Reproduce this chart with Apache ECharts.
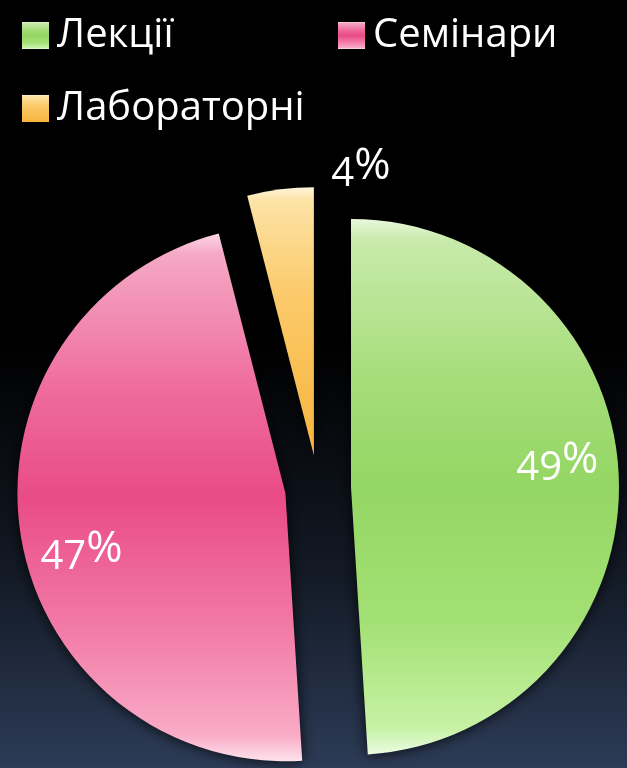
<!DOCTYPE html>
<html>
<head>
<meta charset="utf-8">
<script src="https://cdn.jsdelivr.net/npm/echarts@6/dist/echarts.min.js"></script>
<style>
  html, body { margin: 0; padding: 0; background: #000; }
  #chart { width: 627px; height: 768px; }
</style>
</head>
<body>
<div id="chart"></div>
<script>
// data
const categories = ['Лекції', 'Семінари', 'Лабораторні'];
const shares = [49, 47, 4];

const slices = [
    // green
    [[0, '#e9f8dc'], [0.04, '#c8eaab'], [0.3, '#a6dd7a'], [0.5, '#94d663'], [0.75, '#a3e074'], [0.95, '#c6f2a3'], [1, '#ecfbe2']],
    // pink
    [[0, '#fbd6e4'], [0.04, '#f5a8c4'], [0.3, '#ee6b9c'], [0.5, '#e94b88'], [0.75, '#f27ba7'], [0.95, '#f9abc6'], [1, '#fde2ec']],
    // orange
    [[0, '#fff4da'], [0.05, '#fde3a6'], [0.4, '#fbca6a'], [1, '#f7b43c']]
];

function grad(stops) {
    return new echarts.graphic.LinearGradient(0, 0, 0, 1,
        stops.map(s => ({ offset: s[0], color: s[1] })));
}

const chart = echarts.init(document.getElementById('chart'));

const center = [318, 488];
const radius = 268;
const offset = 33;

const option = {
    backgroundColor: new echarts.graphic.LinearGradient(0, 0, 0, 1, [
        { offset: 0, color: '#000000' },
        { offset: 0.45, color: '#000000' },
        { offset: 0.75, color: '#131a26' },
        { offset: 1, color: '#2c3b56' }
    ]),
    animation: false,
    legend: {
        left: 17,
        top: -1,
        width: 626,
        itemWidth: 27,
        itemHeight: 27,
        itemGap: 10,
        icon: 'rect',
        selectedMode: false,
        textStyle: {
            color: '#ffffff',
            fontFamily: 'Open Sans',
            fontSize: 40,
            lineHeight: 63,
            width: 271,
            padding: [0, 0, 0, 3]
        }
    },
    series: [
        {
            type: 'pie',
            center: center,
            radius: radius,
            startAngle: 90,
            selectedMode: 'multiple',
            selectedOffset: offset,
            silent: true,
            emphasis: { disabled: true, scale: false },
            label: { show: false },
            labelLine: { show: false },
            itemStyle: {
                shadowBlur: 14,
                shadowColor: 'rgba(0,0,0,0.85)'
            },
            data: categories.map((name, i) => ({
                name: name,
                value: shares[i],
                selected: true,
                itemStyle: { color: grad(slices[i]) }
            }))
        },
        {
            // label ring so the texts sit out toward the rim
            type: 'pie',
            center: center,
            radius: [139, radius],
            startAngle: 90,
            selectedMode: 'multiple',
            selectedOffset: offset,
            silent: true,
            emphasis: { disabled: true, scale: false },
            itemStyle: { color: 'transparent', borderWidth: 0 },
            label: {
                show: true,
                position: 'inside',
                formatter: p => '{n|' + p.value + '}{p|%}',
                color: '#ffffff',
                fontFamily: 'Open Sans',
                rich: {
                    n: { color: '#ffffff', fontFamily: 'Open Sans', fontSize: 40, padding: [8, 0, 0, 0] },
                    p: { color: '#ffffff', fontFamily: 'Open Sans', fontSize: 44, padding: [0, 0, 8, 0] }
                }
            },
            labelLine: { show: false },
            labelLayout: function (params) {
                const nudge = [[0, -16], [0, 28], [73, -80]];
                const n = nudge[params.dataIndex];
                return { dx: n[0], dy: n[1] };
            },
            data: categories.map((name, i) => ({
                name: name,
                value: shares[i],
                selected: true
            }))
        }
    ]
};

chart.setOption(option);
</script>
</body>
</html>
